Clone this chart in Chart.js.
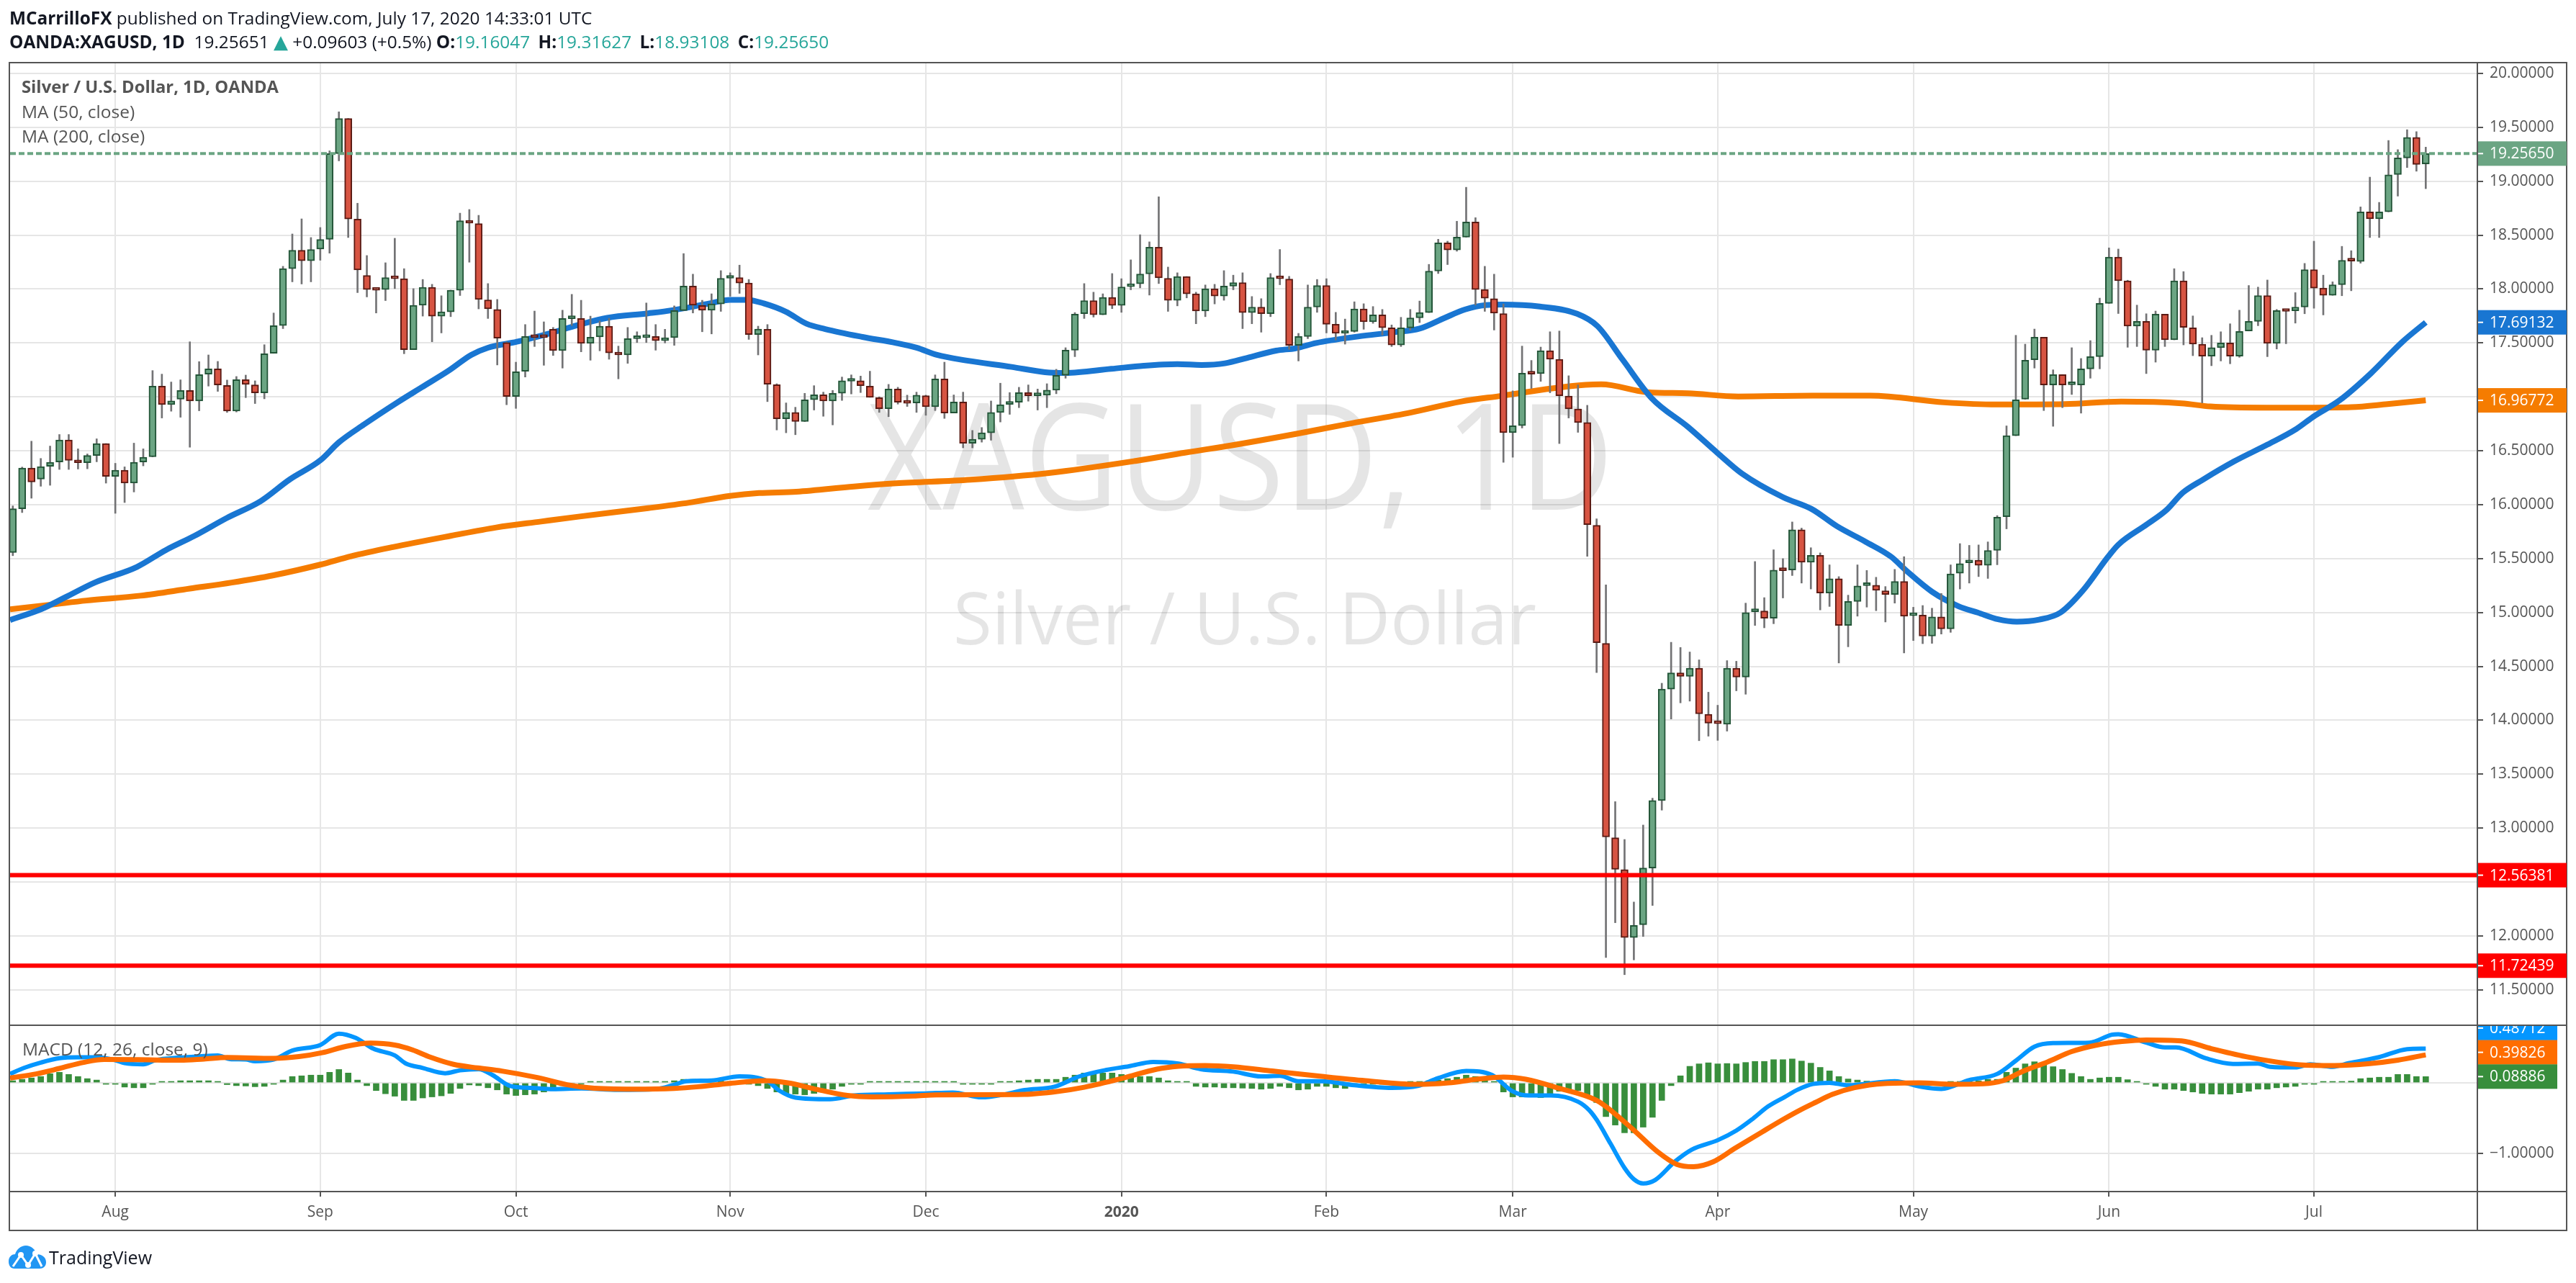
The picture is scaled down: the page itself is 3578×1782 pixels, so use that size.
<!DOCTYPE html>
<html>
<head>
<meta charset="utf-8">
<title>XAGUSD</title>
<script src="https://cdn.jsdelivr.net/npm/chart.js@4"></script>
<style>
    html, body { margin: 0; padding: 0; background: #fff; overflow: hidden; }
    body { width: 3578px; height: 1782px; position: relative; font-family: "Open Sans", sans-serif; color: #131722; }
    canvas { position: absolute; left: 0; top: 0; }
    .txt { position: absolute; white-space: pre; line-height: 34px; }
    .up { color: #26a69a; margin-right: 5px; }
    .tri { color: #26a69a; font-family: "DejaVu Sans"; font-size: 26px; }
    .pane { color: #555; font-size: 24.5px; }
    #logo { position: absolute; left: 12px; top: 1730px; }
</style>
</head>
<body>
<canvas id="chart" width="3578" height="1782"></canvas>
<div class="txt" style="left:13px;top:8px;font-size:24.4px"><b>MCarrilloFX</b> published on TradingView.com, July 17, 2020 14:33:01 UTC</div>
<div class="txt" style="left:13px;top:41px;font-size:24.4px"><b>OANDA:XAGUSD, 1D</b>  19.25651 <span class="tri">▲</span> +0.09603 (+0.5%) <b>O:</b><span class="up">19.16047</span> <b>H:</b><span class="up">19.31627</span> <b>L:</b><span class="up">18.93108</span> <b>C:</b><span class="up">19.25650</span></div>
<div class="txt pane" style="left:30px;top:103px;font-size:23.8px"><b>Silver / U.S. Dollar, 1D, OANDA</b></div>
<div class="txt pane" style="left:30px;top:138px">MA (50, close)</div>
<div class="txt pane" style="left:30px;top:172px">MA (200, close)</div>
<div class="txt pane" style="left:31px;top:1440px">MACD (12, 26, close, 9)</div>
<svg id="logo" width="52" height="32" viewBox="0 0 52 32">
    <path d="M0 22 C0 15 5 12 9 12 C11 5 17 0 24 0 C31 0 37 5 39 12 C46 12 52 16 52 23 C52 29 48 32 43 32 L8 32 C3 32 0 28 0 22 Z" fill="#2196f3"/>
    <polyline points="6,29 17,13 27,27 37,11 46,29" fill="none" stroke="#fff" stroke-width="3"/>
    <circle cx="17" cy="13" r="4" fill="#fff"/><circle cx="27" cy="27" r="4" fill="#fff"/><circle cx="37" cy="11" r="4" fill="#fff"/>
</svg>
<div class="txt" style="left:68px;top:1729px;font-size:25px">TradingView</div>

<script>
const opens = [
    15.556,15.962,16.34,16.238,16.356,16.396,16.6,16.407,16.389,16.456,
    16.567,16.262,16.32,16.2,16.396,16.444,17.1,16.929,16.978,17.06,
    16.962,17.211,17.26,17.107,16.869,17.16,17.111,17.038,17.404,17.662,
    18.189,18.36,18.262,18.371,18.462,19.256,19.582,18.649,18.127,18.0,
    17.996,18.107,18.096,17.438,17.851,18.016,17.749,17.789,17.989,18.633,
    18.607,17.9,17.811,17.504,17.004,17.238,17.56,17.556,17.627,17.429,
    17.725,17.727,17.496,17.556,17.656,17.407,17.389,17.54,17.55,17.56,
    17.522,17.549,17.8,18.027,17.847,17.804,17.862,18.1,18.107,18.056,
    17.578,17.627,17.113,16.796,16.856,16.771,16.973,17.02,16.962,17.033,
    17.145,17.149,17.1,16.993,16.891,17.073,16.949,16.944,17.011,16.909,
    17.167,16.851,16.953,16.569,16.607,16.667,16.856,16.931,16.951,17.04,
    17.011,17.016,17.062,17.2,17.433,17.771,17.893,17.762,17.922,17.849,
    18.022,18.049,18.14,18.389,18.1,17.896,18.116,17.956,17.796,18.002,
    17.936,18.027,18.06,17.782,17.833,17.771,18.104,18.093,17.478,17.56,
    17.833,18.033,17.673,17.589,17.607,17.816,17.696,17.76,17.64,17.482,
    17.64,17.733,17.782,18.167,18.429,18.362,18.482,18.622,17.996,17.911,
    17.773,16.669,16.733,17.218,17.216,17.429,17.349,17.007,16.887,16.762,
    15.809,14.714,12.911,12.615,11.986,12.104,12.63,13.256,14.29,14.44,
    14.408,14.484,14.057,13.973,13.964,14.484,14.401,15.007,15.014,14.947,
    15.394,15.394,15.767,15.467,15.531,15.18,15.314,14.88,15.103,15.25,
    15.253,15.202,15.167,15.288,14.971,14.976,14.781,14.96,14.848,15.365,
    15.461,15.486,15.438,15.576,15.888,16.64,16.978,17.344,17.553,17.111,
    17.207,17.113,17.111,17.26,17.373,17.867,18.296,18.076,17.656,17.7,
    17.433,17.767,17.529,18.076,17.64,17.489,17.378,17.456,17.5,17.378,
    17.611,17.7,17.94,17.496,17.798,17.798,17.833,18.18,18.009,17.942,
    18.04,18.267,18.256,18.716,18.651,18.716,19.062,19.216,19.407,19.16047
];
const closes = [
    15.962,16.34,16.211,16.353,16.393,16.6,16.411,16.389,16.456,16.567,
    16.262,16.32,16.2,16.393,16.44,17.1,16.929,16.962,17.06,16.962,
    17.207,17.26,17.111,16.869,17.16,17.116,17.038,17.4,17.66,18.189,
    18.36,18.262,18.367,18.46,19.256,19.582,18.649,18.178,17.996,17.989,
    18.107,18.096,17.438,17.849,18.016,17.749,17.789,17.989,18.633,18.611,
    17.904,17.816,17.544,17.004,17.233,17.56,17.55,17.55,17.429,17.727,
    17.735,17.496,17.553,17.656,17.407,17.389,17.54,17.55,17.556,17.522,
    17.549,17.8,18.027,17.851,17.804,17.862,18.1,18.107,18.056,17.578,
    17.629,17.118,16.796,16.856,16.771,16.973,17.02,16.962,17.033,17.149,
    17.153,17.104,16.996,16.891,17.073,16.951,16.941,17.016,16.909,17.167,
    16.851,16.953,16.569,16.607,16.667,16.856,16.927,16.951,17.04,17.011,
    17.014,17.062,17.2,17.433,17.767,17.893,17.762,17.922,17.849,18.02,
    18.049,18.14,18.389,18.104,17.896,18.116,17.956,17.796,18.002,17.936,
    18.027,18.06,17.782,17.833,17.771,18.107,18.096,17.478,17.56,17.833,
    18.033,17.673,17.589,17.604,17.816,17.696,17.76,17.642,17.482,17.64,
    17.733,17.782,18.167,18.429,18.362,18.482,18.622,17.996,17.916,17.776,
    16.669,16.733,17.22,17.211,17.429,17.349,17.011,16.889,16.762,15.815,
    14.72,12.918,12.618,11.986,12.098,12.63,13.256,14.29,14.44,14.408,
    14.484,14.06,13.974,13.969,14.484,14.401,15.0,15.016,14.947,15.394,
    15.388,15.767,15.467,15.531,15.18,15.314,14.88,15.103,15.247,15.256,
    15.205,15.167,15.288,14.966,14.974,14.781,14.96,14.848,15.359,15.454,
    15.486,15.438,15.576,15.885,16.64,16.973,17.34,17.553,17.111,17.207,
    17.111,17.118,17.26,17.373,17.867,18.296,18.078,17.656,17.7,17.433,
    17.767,17.529,18.076,17.644,17.489,17.378,17.456,17.5,17.378,17.607,
    17.7,17.94,17.496,17.8,17.793,17.833,18.18,18.009,17.942,18.04,
    18.267,18.26,18.716,18.651,18.716,19.06,19.216,19.407,19.156,19.2565
];
const highs = [
    15.989,16.349,16.589,16.429,16.544,16.651,16.651,16.518,16.471,16.611,
    16.567,16.384,16.351,16.571,16.518,17.244,17.211,17.138,17.158,17.511,
    17.327,17.389,17.329,17.156,17.189,17.202,17.149,17.484,17.778,18.211,
    18.511,18.651,18.478,18.571,19.282,19.644,19.582,18.796,18.311,18.011,
    18.244,18.471,18.189,18.004,18.089,18.044,17.938,17.99,18.704,18.738,
    18.684,18.051,17.904,17.51,17.322,17.671,17.796,17.696,17.644,17.804,
    17.951,17.896,17.749,17.704,17.729,17.471,17.644,17.604,17.871,17.671,
    17.627,17.844,18.329,18.138,17.896,17.956,18.171,18.151,18.222,18.089,
    17.656,17.671,17.122,16.944,16.904,17.033,17.104,17.044,17.06,17.184,
    17.204,17.193,17.238,17.0,17.116,17.089,17.016,17.044,17.016,17.204,
    17.322,17.018,17.044,16.689,16.716,16.962,17.127,17.04,17.089,17.111,
    17.073,17.122,17.256,17.456,17.782,18.051,17.971,17.956,18.144,18.096,
    18.271,18.504,18.438,18.856,18.204,18.151,18.116,17.971,18.038,18.044,
    18.171,18.129,18.151,17.931,17.911,18.144,18.367,18.118,17.589,18.038,
    18.089,18.096,17.784,17.722,17.882,17.864,17.838,17.811,17.667,17.738,
    17.811,17.889,18.229,18.462,18.444,18.629,18.944,18.662,18.211,18.138,
    17.862,17.056,17.471,17.338,17.462,17.604,17.611,17.196,17.111,16.922,
    15.869,15.257,13.246,12.895,12.315,13.029,13.278,14.344,14.724,14.676,
    14.634,14.561,14.261,14.14,14.554,14.548,15.087,15.473,15.138,15.582,
    15.5,15.84,15.783,15.601,15.553,15.442,15.333,15.161,15.442,15.39,
    15.327,15.241,15.4,15.518,15.049,15.065,15.04,15.177,15.442,15.639,
    15.623,15.627,15.655,15.899,16.731,17.571,17.489,17.629,17.553,17.251,
    17.207,17.456,17.356,17.522,17.916,18.382,18.371,18.082,17.851,17.771,
    17.796,17.767,18.189,18.162,17.751,17.549,17.571,17.604,17.678,17.804,
    18.033,18.018,18.084,17.811,17.798,17.967,18.238,18.444,18.129,18.067,
    18.396,18.356,18.762,19.038,18.804,19.378,19.293,19.478,19.46,19.31627
];
const lows = [
    15.527,15.927,16.06,16.171,16.18,16.327,16.327,16.331,16.333,16.398,
    16.2,15.92,16.02,16.118,16.36,16.444,16.804,16.867,16.811,16.533,
    16.871,17.1,17.051,16.856,16.86,16.993,16.938,16.982,17.404,17.633,
    18.067,18.047,18.067,18.267,18.333,19.189,18.478,17.967,17.927,17.778,
    17.893,18.004,17.4,17.438,17.749,17.511,17.593,17.744,17.94,18.249,
    17.816,17.727,17.296,16.927,16.893,17.184,17.467,17.293,17.384,17.267,
    17.662,17.418,17.34,17.427,17.349,17.167,17.311,17.504,17.504,17.433,
    17.5,17.478,17.8,17.778,17.604,17.584,17.793,17.933,17.96,17.533,
    17.389,16.956,16.693,16.667,16.649,16.771,16.878,16.82,16.74,16.967,
    17.027,17.04,16.996,16.856,16.816,16.933,16.911,16.856,16.829,16.873,
    16.8,16.851,16.527,16.527,16.58,16.598,16.767,16.838,16.9,16.96,
    16.878,16.9,17.029,17.173,17.373,17.727,17.74,17.762,17.818,17.784,
    17.993,18.011,17.944,18.051,17.793,17.844,17.918,17.678,17.744,17.862,
    17.896,17.993,17.633,17.678,17.6,17.744,18.04,17.44,17.333,17.54,
    17.784,17.593,17.527,17.489,17.6,17.627,17.682,17.573,17.467,17.467,
    17.618,17.689,17.782,18.144,18.227,18.351,18.482,17.851,17.793,17.62,
    16.393,16.44,16.711,17.078,17.144,17.038,16.567,16.804,16.671,15.521,
    14.443,11.8,12.123,11.641,11.778,11.995,12.283,13.167,14.012,14.162,
    14.178,13.811,13.853,13.814,13.9,14.274,14.242,14.88,14.858,14.896,
    15.135,15.343,15.273,15.218,15.024,15.056,14.532,14.682,14.966,15.05,
    15.017,14.912,15.087,14.625,14.74,14.711,14.714,14.8,14.816,15.218,
    15.273,15.333,15.316,15.443,15.776,16.64,16.978,17.267,16.873,16.727,
    16.9,17.022,16.849,17.173,17.26,17.867,17.773,17.46,17.467,17.216,
    17.322,17.467,17.529,17.482,17.382,16.944,17.289,17.333,17.307,17.367,
    17.611,17.66,17.373,17.444,17.493,17.684,17.771,17.822,17.76,17.942,
    17.938,17.984,18.24,18.478,18.478,18.716,18.862,19.127,19.093,18.93108
];
const histValues = [
    .03,.05,.07,.09,.13,.15,.12,.09,.06,.04,
    -.01,-.02,-.06,-.07,-.07,-.015,.01,.02,.03,.03,
    .03,.03,.02,-.025,-.04,-.045,-.055,-.05,-.015,.04,
    .09,.1,.11,.11,.15,.19,.14,.04,-.04,-.11,
    -.155,-.19,-.25,-.25,-.215,-.2,-.185,-.15,-.08,-.03,
    -.04,-.07,-.1,-.16,-.18,-.17,-.16,-.13,-.11,-.04,
    -.03,-.02,.015,.015,.01,.015,.015,.01,.01,.01,
    .01,.03,.05,.05,.05,.05,.03,.02,.01,-.01,
    -.04,-.08,-.13,-.15,-.16,-.17,-.15,-.1,-.09,-.05,
    -.015,-.01,.01,.005,.01,.01,.005,.005,.01,.015,
    .005,.005,-.01,-.02,-.02,-.015,.005,.01,.03,.04,
    .05,.05,.05,.08,.11,.14,.14,.14,.14,.12,
    .1,.09,.09,.07,.03,.02,.005,-.05,-.06,-.06,
    -.07,-.07,-.075,-.08,-.09,-.08,-.05,-.07,-.1,-.09,
    -.05,-.05,-.07,-.08,-.05,-.03,-.02,-.015,-.015,-.01,
    .01,.02,.03,.04,.06,.08,.11,.09,.05,.02,
    -.13,-.2,-.2,-.2,-.21,-.15,-.12,-.11,-.11,-.2,
    -.28,-.48,-.6,-.71,-.71,-.63,-.49,-.25,-.04,.1,
    .235,.27,.285,.27,.275,.27,.29,.305,.305,.33,
    .33,.34,.31,.28,.22,.17,.09,.055,.04,.025,
    .02,.02,.01,.005,-.01,-.01,-.01,-.01,.005,.01,
    .02,.03,.05,.05,.15,.21,.27,.3,.26,.23,
    .19,.135,.09,.05,.07,.08,.08,.045,.02,-.02,
    -.05,-.09,-.09,-.11,-.13,-.15,-.16,-.16,-.16,-.14,
    -.12,-.09,-.09,-.07,-.06,-.05,-.01,-.005,.01,.01,
    .01,.025,.06,.07,.08,.08,.12,.12,.09,.08886
];

// moving averages and macd lines, read at their visible bends (bar number, value)
const ma50Bars = [-.3,3.1,5.7,8.8,13.3,16.4,19.5,23,26.6,29.7,33,35,37.7,41.2,43.9,46.8,49.2,51,54.1,57.6,60.7,63.8,68.2,70.8,74.8,77,78.8,80.6,83,85.2,87.2,91.2,94.8,97,99.2,102.3,107.2,110.8,113,117.9,121.4,125,127.6,130.1,132.5,135.6,137.7,139.9,144.4,148.3,151,153.7,155.9,158.1,159.9,163.9,167.9,170.1,172.8,175.9,179.8,183,185.6,190,193.1,195.8,198.9,201.6,203.3,206,208.9,210.9,213.1,215.1,217.5,219.8,222.2,224.9,226,229.1,231.2,232.9,235.1,238.4,242,245.1,246.9,249.8,253.1,256.5,259];
const ma50Values = [14.93,15.033,15.144,15.278,15.422,15.578,15.711,15.878,16.033,16.233,16.411,16.578,16.744,16.944,17.089,17.244,17.389,17.456,17.511,17.589,17.667,17.733,17.775,17.804,17.867,17.9,17.9,17.867,17.789,17.678,17.629,17.556,17.5,17.456,17.389,17.338,17.278,17.229,17.222,17.26,17.289,17.304,17.296,17.311,17.362,17.429,17.451,17.5,17.56,17.6,17.633,17.733,17.811,17.851,17.856,17.838,17.771,17.656,17.344,16.989,16.722,16.478,16.289,16.07,15.959,15.8,15.655,15.518,15.384,15.193,15.056,15,14.937,14.915,14.934,15,15.204,15.517,15.629,15.819,15.953,16.11,16.233,16.4,16.557,16.702,16.814,16.971,17.217,17.511,17.69132];
const ma200Bars = [-.3,4.4,7.9,13.7,19,23.5,27.9,33,36.3,40.8,47,51.9,56.7,60.7,68.2,72.6,77,80.1,84.1,90.3,94.8,102.8,111.2,120.5,125.8,131.2,137.7,143,150.1,155.4,159.9,165.2,168.8,170.5,175.4,179.8,185.2,193.2,199.4,207.3,212.9,220.3,226.3,232.8,235.9,241.9,247.1,251,254.9,259];
const ma200Values = [15.029,15.076,15.111,15.156,15.222,15.278,15.344,15.444,15.522,15.607,15.711,15.789,15.844,15.889,15.968,16.019,16.082,16.108,16.12,16.169,16.198,16.232,16.294,16.406,16.482,16.556,16.656,16.744,16.856,16.956,17.011,17.078,17.111,17.116,17.044,17.033,17.004,17.011,17.011,16.949,16.929,16.933,16.956,16.94,16.911,16.9,16.9,16.904,16.933,16.96772];
const macdBars = [-.3,1.2,3,5,7,9,11,12,14,15.3,18,20,22,23.3,25,26,28,30,33,35,36.8,38.7,41,42.2,44,46.4,48,50,51.5,53.4,55.7,58,61,65,69,71,72.3,75,78,81,82.3,84,87.7,90.3,94,98,100.9,104,106.2,108.6,111.8,114.5,117.4,119.8,122.4,125.1,127.5,131,134,136,138,140.5,144,148,150.8,153,156,158.8,160.9,162.7,165.1,168,169.2,170,171.5,173,174,175,176.3,178.4,180.2,183,185,186.8,188.4,190.2,191.6,193.2,195,197,202,205,207,210,213,215,217,219,222.9,225.3,226,229,231,232.2,235.4,238.3,241,242.3,245,246.6,249,250.8,254,257,259];
const macdValues = [.127,.212,.288,.35,.363,.363,.322,.28,.264,.322,.36,.377,.39,.339,.332,.308,.332,.459,.538,.7,.64,.486,.39,.274,.212,.137,.178,.195,.11,-.045,-.072,-.09,-.08,-.1,-.09,-.027,.024,.034,.092,.024,-.113,-.21,-.233,-.18,-.164,-.15,-.137,-.205,-.17,-.103,-.055,.092,.185,.236,.298,.274,.195,.16,.092,.1,.024,.024,-.034,-.072,-.045,.068,.17,.11,-.113,-.18,-.18,-.267,-.387,-.524,-.866,-1.21,-1.37,-1.43,-1.38,-1.12,-.95,-.815,-.678,-.507,-.336,-.2,-.096,-.017,0,-.034,.024,-.06,-.086,.04,.127,.315,.514,.565,.572,.685,.692,.572,.503,.503,.349,.27,.274,.229,.219,.264,.229,.281,.366,.479,.48712];
const signalBars = [-.3,2.5,5,7.6,9.8,13.4,18,20.5,23,28,30.7,33.2,35.8,38.4,41,42.9,44.8,47.3,49.9,52.5,56.3,59.5,62,66.6,71,73.6,76.8,80.7,83.2,86.4,89.6,92.2,96.7,99.1,104,108.6,112.1,115,119.2,122.8,125.1,128,131,135.2,140.5,145.2,150.6,154.1,157,160,162.4,166,170,171.8,173.9,176.6,178.6,180.4,182.5,184.8,187.8,190.2,191.8,193.4,195.3,197.7,200.9,204.6,208.3,211.5,213.6,215.7,218.4,221,223.7,226.4,229,232.8,236,239.7,242.9,245.5,249.2,253,256,259];
const signalValues = [.068,.127,.205,.291,.332,.329,.322,.339,.36,.349,.373,.428,.52,.565,.538,.469,.366,.264,.212,.168,.075,-.027,-.072,-.089,-.079,-.055,-.01,.031,0,-.096,-.18,-.2,-.188,-.171,-.168,-.164,-.123,-.062,.068,.195,.236,.247,.229,.168,.092,.031,-.021,0,.048,.082,.051,-.079,-.25,-.421,-.661,-.986,-1.158,-1.192,-1.123,-.935,-.695,-.507,-.39,-.284,-.164,-.068,-.01,0,-.02,-.014,.031,.161,.298,.445,.538,.589,.61,.596,.486,.373,.298,.257,.247,.274,.322,.39826];

const lastPrice = 19.2565;
const redLevels = [12.56381, 11.72439];
const priceTicks = [11.5,12,12.5,13,13.5,14,14.5,15,15.5,16,16.5,17,17.5,18,18.5,19,19.5,20];
const macdTicks = [-1, 0];
const monthBars = [11,33,54,77,98,119,141,161,183,204,225,247];
const monthLabels = ["Aug","Sep","Oct","Nov","Dec","2020","Feb","Mar","Apr","May","Jun","Jul"];

const FONT = '"Open Sans", sans-serif';
const UP = "#6ba583", DOWN = "#d75442";
const xMin = -0.294, xMax = 264.54;

const points = (xs, ys) => xs.map((x, i) => ({ x: x, y: ys[i] }));
const bars = opens.map((o, i) => i);
const level = (v) => [{ x: xMin, y: v }, { x: xMax, y: v }];

// y labels that sit under a price tag in the original
const hiddenTicks = [12.5, 17, 0];

// tags on the price axis; shift is where the original pushes a tag away from its neighbour
const tags = [
    { axis: "y", value: 19.2565, text: "19.25650", color: UP, right: 3565 },
    { axis: "y", value: 17.69132, text: "17.69132", color: "#1976d2", right: 3565 },
    { axis: "y", value: 16.96772, text: "16.96772", color: "#f57c00", right: 3565 },
    { axis: "y", value: 12.56381, text: "12.56381", color: "#ff0000", right: 3565 },
    { axis: "y", value: 11.72439, text: "11.72439", color: "#ff0000", right: 3565 },
    { axis: "m", value: 0.48712, text: "0.48712", color: "#0496ff", right: 3552, shift: -28.5 },
    { axis: "m", value: 0.39826, text: "0.39826", color: "#ff6d00", right: 3552, shift: -3.5 },
    { axis: "m", value: 0.08886, text: "0.08886", color: "#388e3c", right: 3552 }
];

const watermark = {
    id: "watermark",
    beforeDatasetsDraw(chart) {
        const c = chart.ctx;
        c.save();
        c.fillStyle = "rgba(0,0,0,0.1)";
        c.textAlign = "center";
        c.textBaseline = "middle";
        c.font = "205px " + FONT;
        c.fillText("XAGUSD, 1D", 1723, 650, 1036);
        c.font = "100px " + FONT;
        c.fillText("Silver / U.S. Dollar", 1729, 867, 810);
        c.restore();
    }
};

const frame = {
    id: "frame",
    afterDraw(chart) {
        const c = chart.ctx, a = chart.chartArea, split = chart.scales.y.bottom;
        c.save();
        c.strokeStyle = "#555";
        c.lineWidth = 2;
        c.strokeRect(13, a.top, 3565 - 13, 1709 - a.top);
        c.beginPath();
        c.moveTo(13, split); c.lineTo(3565, split);
        c.moveTo(13, a.bottom); c.lineTo(3565, a.bottom);
        c.moveTo(a.right, a.top); c.lineTo(a.right, 1709);
        c.stroke();

        c.font = "21px " + FONT;
        c.textBaseline = "middle";
        tags.forEach((t) => {
            const s = chart.scales[t.axis];
            const y = s.getPixelForValue(t.value) + (t.shift || 0);
            c.save();
            c.beginPath();
            c.rect(a.right, s.top + 1, 3578 - a.right, s.bottom - s.top - 1);
            c.clip();
            c.fillStyle = t.color;
            c.fillRect(a.right + 1, y - 17, t.right - a.right - 1, 34);
            c.fillStyle = "#fff";
            c.fillRect(a.right + 1, y - 1, 7, 2);
            c.fillText(t.text, a.right + 17, y + 1);
            c.restore();
        });
        c.restore();
    }
};

const yScaleBase = {
    type: "linear",
    position: "right",
    stack: "panes",
    border: { display: false },
    grid: { color: "#e6e6e6", lineWidth: 2, tickColor: "#555", tickWidth: 2, tickLength: 8 },
    afterFit(scale) { scale.width = 124; }
};
const yTickBase = {
    color: "#555",
    padding: 9,
    font: { family: FONT, size: 21 },
    callback(v) {
        if (hiddenTicks.includes(v)) return "";
        return v.toFixed(5).replace("-", "\u2212");
    }
};

const config = {
    data: {
        datasets: [
            { type: "line", label: "Level 1", data: level(redLevels[0]), borderColor: "#ff0000", borderWidth: 6, pointRadius: 0, order: 0, yAxisID: "y" },
            { type: "line", label: "Level 2", data: level(redLevels[1]), borderColor: "#ff0000", borderWidth: 6, pointRadius: 0, order: 0, yAxisID: "y" },
            { type: "line", label: "Last", data: level(lastPrice), borderColor: UP, borderWidth: 4, borderDash: [8, 4], pointRadius: 0, order: 1, yAxisID: "y" },
            {
                type: "bar", label: "Body", yAxisID: "y", order: 2, grouped: false,
                data: bars.map((i) => ({ x: i, y: [opens[i], closes[i]] })),
                backgroundColor: bars.map((i) => closes[i] >= opens[i] ? UP : DOWN),
                borderColor: bars.map((i) => closes[i] >= opens[i] ? "#225437" : "#5b1a13"),
                borderWidth: 2, borderSkipped: false, barThickness: 10, minBarLength: 4
            },
            {
                type: "bar", label: "Wick", yAxisID: "y", order: 3, grouped: false,
                data: bars.map((i) => ({ x: i, y: [lows[i], highs[i]] })),
                backgroundColor: "#737375", barThickness: 2
            },
            { type: "line", label: "MA 50", data: points(ma50Bars, ma50Values), borderColor: "#1976d2", borderWidth: 8, pointRadius: 0, cubicInterpolationMode: "monotone", order: 4, yAxisID: "y" },
            { type: "line", label: "MA 200", data: points(ma200Bars, ma200Values), borderColor: "#f57c00", borderWidth: 8, pointRadius: 0, cubicInterpolationMode: "monotone", order: 5, yAxisID: "y" },
            { type: "line", label: "Signal", data: points(signalBars, signalValues), borderColor: "#ff6d00", borderWidth: 7, pointRadius: 0, cubicInterpolationMode: "monotone", order: 6, yAxisID: "m" },
            { type: "line", label: "MACD", data: points(macdBars, macdValues), borderColor: "#0496ff", borderWidth: 6, pointRadius: 0, cubicInterpolationMode: "monotone", order: 7, yAxisID: "m" },
            {
                type: "bar", label: "Histogram", yAxisID: "m", order: 8, grouped: false,
                data: bars.map((i) => ({ x: i, y: histValues[i] })),
                backgroundColor: "#388e3c", barThickness: 8, minBarLength: 2
            }
        ]
    },
    options: {
        responsive: false,
        animation: false,
        events: [],
        devicePixelRatio: 1,
        layout: { padding: { left: 14, top: 87, right: 13, bottom: 73 } },
        plugins: { legend: { display: false }, tooltip: { enabled: false } },
        scales: {
            x: {
                type: "linear",
                min: xMin,
                max: xMax,
                offset: false,
                border: { display: false },
                grid: { offset: false, color: "#e6e6e6", lineWidth: 2, tickColor: "#555", tickWidth: 2, tickLength: 7 },
                ticks: {
                    autoSkip: false,
                    maxRotation: 0,
                    color: "#555",
                    padding: 9,
                    font: (ctx) => ({ family: FONT, size: 21, weight: monthBars[5] === ctx.tick?.value ? "bold" : "normal" }),
                    callback: (v) => monthLabels[monthBars.indexOf(v)] || ""
                },
                afterBuildTicks(scale) { scale.ticks = monthBars.map((v) => ({ value: v })); },
                afterFit(scale) { scale.height = 54; }
            },
            y: {
                ...yScaleBase,
                min: 11.172,
                max: 20.1,
                stackWeight: 1337,
                ticks: yTickBase,
                afterBuildTicks(scale) { scale.ticks = priceTicks.map((v) => ({ value: v })); }
            },
            m: {
                ...yScaleBase,
                min: -1.5456,
                max: 0.819,
                stackWeight: 231,
                ticks: yTickBase,
                afterBuildTicks(scale) { scale.ticks = macdTicks.map((v) => ({ value: v })); }
            }
        }
    },
    plugins: [watermark, frame]
};

const context = document.getElementById("chart");
const chart = new Chart(context, config);
</script>
</body>
</html>
